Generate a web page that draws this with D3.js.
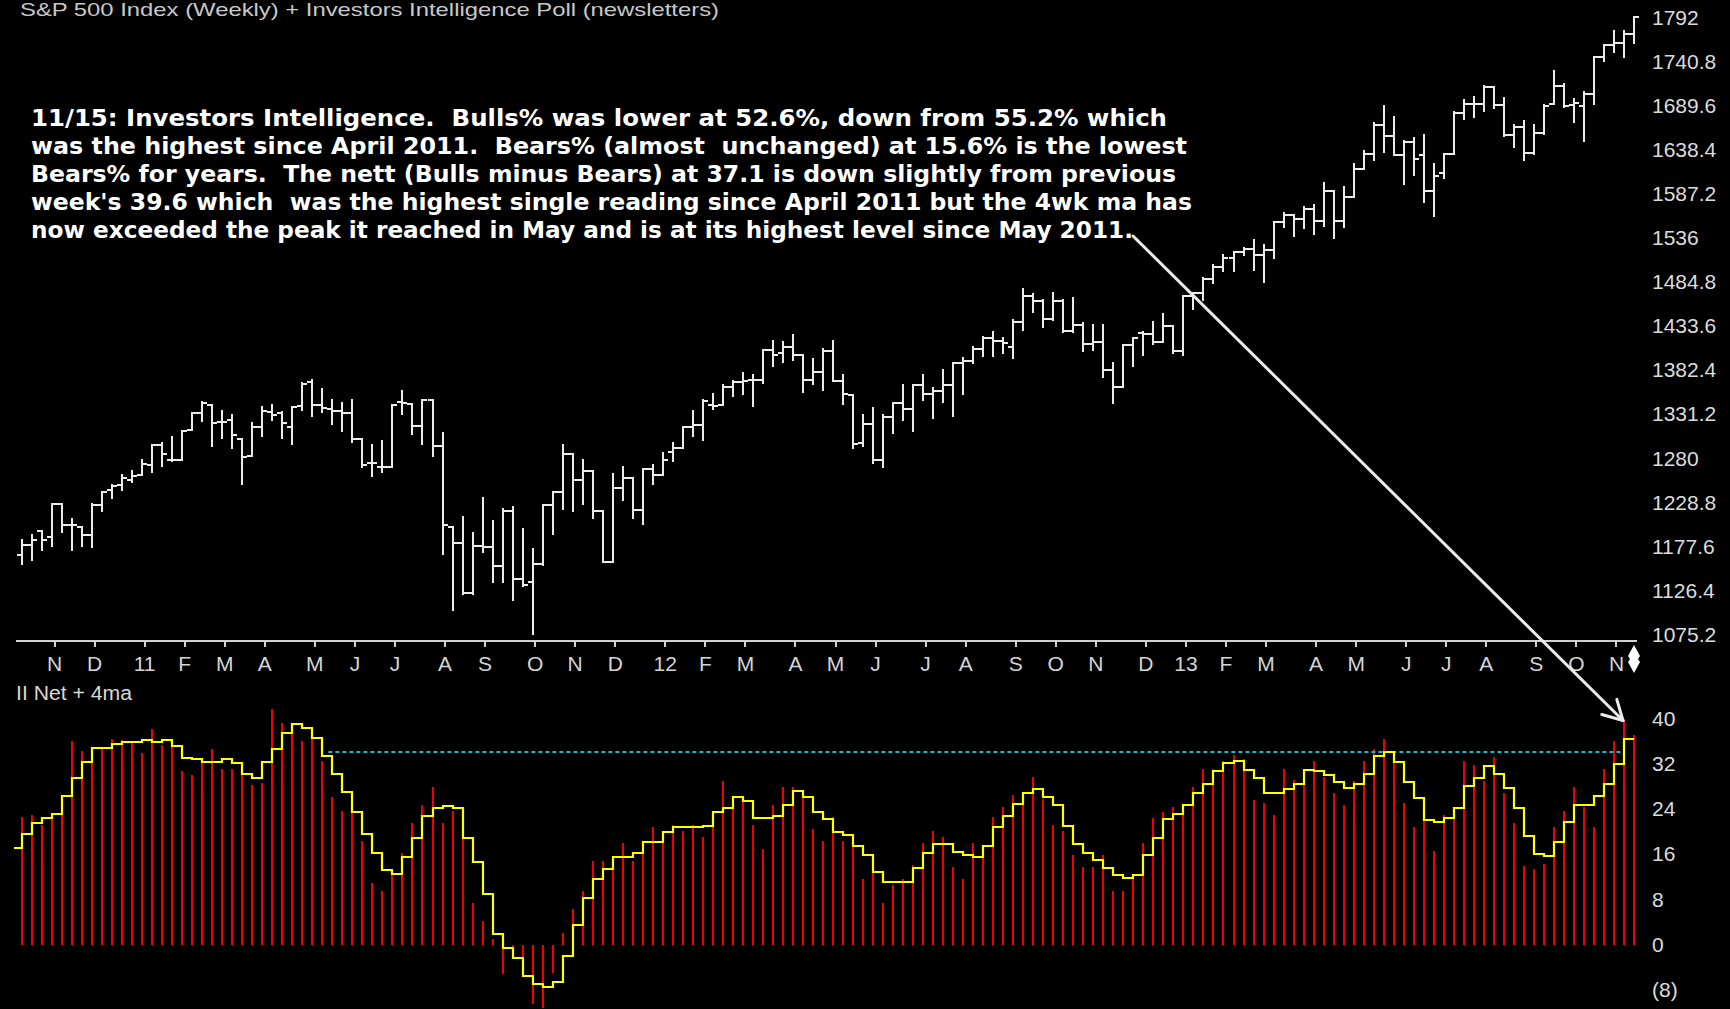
<!DOCTYPE html>
<html><head><meta charset="utf-8">
<script src="https://cdn.jsdelivr.net/npm/d3@7"></script>
<style>html,body{margin:0;padding:0;background:#000;overflow:hidden}</style>
</head><body>
<svg id="c" width="1730" height="1009"></svg>
<script>
// ---------------- DATA ----------------
const startDate = "2010-10-15"; // first weekly bar (week ending Friday)
const title = "S&P 500 Index (Weekly) + Investors Intelligence Poll  (newsletters)";
const panelLabel = "II Net + 4ma";
const noteLines = [
  "11/15: Investors Intelligence.  Bulls% was lower at 52.6%, down from 55.2% which",
  "was the highest since April 2011.  Bears% (almost  unchanged) at 15.6% is the lowest",
  "Bears% for years.  The nett (Bulls minus Bears) at 37.1 is down slightly from previous",
  "week's 39.6 which  was the highest single reading since April 2011 but the 4wk ma has",
  "now exceeded the peak it reached in May and is at its highest level since May 2011."
];
const priceOpen = [1167,1179,1195,1188,1227,1202,1200,1190,1225,1243,
1249,1254,1260,1272,1295,1278,1278,1313,1332,1342,
1322,1324,1302,1282,1316,1334,1332,1316,1340,1368,
1342,1337,1335,1332,1302,1274,1270,1269,1345,1343,
1317,1347,1294,1200,1181,1123,1178,1176,1154,1218,
1139,1136,1157,1225,1240,1285,1255,1265,1218,1159,
1245,1257,1220,1267,1260,1287,1292,1316,1318,1342,
1342,1363,1368,1371,1371,1406,1402,1409,1400,1371,
1380,1404,1369,1353,1298,1320,1278,1328,1344,1337,
1365,1355,1358,1365,1390,1393,1407,1419,1416,1409,
1438,1468,1462,1442,1463,1428,1435,1413,1415,1382,
1362,1411,1425,1424,1415,1433,1404,1468,1472,1488,
1502,1513,1519,1523,1516,1522,1554,1563,1558,1570,
1555,1591,1556,1583,1616,1633,1667,1654,1632,1647,
1632,1591,1611,1633,1681,1692,1692,1711,1690,1656,
1665,1635,1658,1692,1713,1690,1689,1703,1746,1760,
1763,1773];
const priceHigh = [1185,1190,1195,1227,1227,1209,1200,1227,1241,1249,
1260,1265,1278,1295,1297,1305,1312,1332,1345,1342,
1335,1330,1302,1321,1339,1342,1334,1339,1367,1371,
1360,1348,1344,1347,1302,1295,1300,1342,1358,1343,
1348,1347,1309,1200,1212,1193,1233,1207,1221,1223,
1197,1174,1225,1241,1295,1285,1278,1265,1218,1262,
1270,1257,1267,1272,1286,1298,1316,1335,1347,1355,
1365,1369,1379,1376,1406,1416,1415,1423,1400,1395,
1407,1416,1376,1353,1330,1338,1330,1344,1365,1365,
1376,1361,1382,1391,1396,1409,1421,1427,1420,1440,
1477,1471,1464,1472,1464,1466,1437,1435,1435,1391,
1411,1419,1426,1438,1448,1433,1468,1472,1489,1504,
1516,1519,1524,1533,1528,1554,1565,1563,1572,1574,
1600,1591,1595,1622,1637,1670,1689,1677,1649,1652,
1656,1622,1633,1682,1696,1700,1712,1711,1698,1667,
1672,1667,1690,1730,1715,1697,1706,1746,1760,1777,
1777,1793];
const priceLow = [1157,1161,1173,1178,1194,1173,1178,1176,1219,1234,
1243,1252,1260,1264,1271,1276,1278,1313,1323,1294,
1303,1292,1250,1282,1306,1324,1303,1296,1336,1329,
1334,1319,1312,1299,1269,1259,1264,1269,1331,1308,
1296,1282,1169,1103,1122,1122,1171,1136,1136,1115,
1131,1076,1156,1192,1221,1218,1226,1210,1159,1159,
1231,1210,1203,1250,1260,1276,1292,1306,1301,1337,
1342,1352,1355,1340,1367,1387,1392,1394,1357,1366,
1359,1369,1343,1292,1294,1274,1269,1309,1324,1311,
1347,1326,1345,1329,1354,1391,1399,1399,1402,1396,
1429,1450,1432,1441,1427,1427,1404,1406,1374,1344,
1362,1387,1400,1413,1415,1402,1400,1453,1464,1483,
1497,1497,1516,1499,1485,1512,1549,1538,1547,1541,
1550,1536,1548,1583,1616,1627,1636,1632,1599,1609,
1578,1561,1606,1633,1674,1676,1683,1687,1654,1641,
1627,1633,1657,1692,1688,1671,1648,1692,1741,1752,
1746,1762];
const priceClose = [1179,1185,1185,1227,1202,1202,1190,1225,1241,1247,
1257,1259,1273,1295,1285,1278,1312,1332,1344,1321,
1322,1307,1281,1316,1335,1330,1321,1339,1366,1342,
1338,1335,1332,1302,1272,1274,1269,1342,1344,1317,
1347,1294,1202,1181,1123,1178,1176,1154,1219,1139,
1132,1157,1225,1240,1285,1255,1265,1218,1159,1245,
1257,1220,1267,1260,1278,1292,1316,1318,1346,1340,
1363,1368,1370,1371,1406,1400,1409,1400,1371,1380,
1404,1369,1355,1296,1319,1278,1328,1344,1337,1365,
1355,1358,1365,1390,1393,1407,1419,1416,1414,1438,
1468,1462,1442,1463,1428,1435,1413,1415,1382,1362,
1411,1419,1424,1415,1433,1404,1468,1472,1488,1502,
1513,1519,1523,1516,1522,1554,1563,1558,1570,1555,
1591,1556,1583,1616,1633,1667,1654,1632,1647,1628,
1591,1608,1633,1681,1692,1692,1711,1690,1656,1665,
1635,1658,1689,1712,1689,1693,1703,1746,1760,1763,
1773,1793];
const iiNet = [22.6,22.9,21.1,22.3,23.1,36.0,34.2,34.6,34.6,36.4,
36.2,35.8,33.9,38.1,35.3,34.9,30.7,29.9,32.4,34.6,
31.0,31.0,30.2,28.2,28.6,41.6,39.2,37.6,36.0,36.4,
32.4,26.1,23.6,23.4,18.3,10.9,9.5,12.8,16.2,21.5,
24.6,27.9,21.5,23.6,18.7,7.4,4.2,1.0,-5.3,-0.5,
-5.4,-10.5,-11.3,-5.0,2.1,6.2,9.4,14.8,14.8,13.4,
18.0,14.7,16.4,20.8,19.6,21.1,20.0,21.1,19.0,21.1,
28.9,26.0,25.2,21.1,16.8,24.6,27.9,27.9,26.1,20.4,
18.3,22.6,18.3,17.4,11.5,12.8,7.4,10.5,11.5,14.0,
18.0,20.0,19.0,13.7,11.5,18.0,16.4,22.6,24.3,26.4,
24.9,29.6,25.8,21.1,20.1,15.8,13.7,13.7,15.8,9.5,
9.5,11.8,18.0,22.3,23.5,24.3,23.1,27.9,31.1,31.0,
32.4,33.5,32.7,25.5,25.0,22.9,31.1,29.0,30.6,32.4,
29.6,26.8,24.6,28.9,32.4,34.5,36.3,32.8,25.0,20.7,
22.0,16.5,22.9,22.4,32.5,31.7,28.9,33.2,26.8,21.5,
13.9,13.3,14.3,20.7,23.6,27.9,24.3,20.7,31.0,36.0,
39.6,37.1];
const iiMa4 = [17.1,19.6,21.4,22.4,23.1,26.3,29.5,32.3,34.7,34.7,
35.5,35.8,35.8,36.2,35.8,36.2,35.1,33.0,32.7,32.3,
32.3,32.7,32.0,30.2,29.5,32.3,34.5,37.3,39.0,38.3,
36.5,33.3,30.2,27.0,23.4,19.6,16.1,13.1,12.5,15.4,
18.9,22.8,24.2,24.4,24.2,18.9,14.6,9.0,1.8,-0.6,
-2.3,-5.5,-6.9,-7.6,-6.6,-2.0,3.4,8.3,11.5,13.3,
15.4,15.4,16.1,18.1,18.1,19.9,20.7,20.7,20.7,21.0,
23.4,24.2,26.0,25.3,22.4,22.4,22.8,24.6,27.1,26.0,
23.4,22.1,19.9,19.3,17.4,15.8,12.8,11.1,11.1,11.1,
13.6,16.1,17.8,17.8,16.4,15.8,15.4,17.4,20.7,22.8,
24.9,26.7,27.4,26.0,24.6,21.0,17.8,16.1,15.0,13.6,
12.2,11.8,12.2,15.8,18.9,22.1,23.1,24.6,26.7,28.4,
30.6,32.0,32.4,30.9,29.5,26.7,26.7,27.4,28.4,30.9,
30.6,29.9,28.8,27.7,28.4,30.2,33.4,34.0,32.3,28.7,
25.9,22.0,21.6,22.4,24.2,28.1,29.5,31.6,30.2,27.7,
24.1,19.1,16.0,15.6,18.2,21.6,24.6,24.6,26.3,28.4,
31.9,36.3];
const priceTicks = [1075.2,1126.4,1177.6,1228.8,1280,1331.2,1382.4,1433.6,1484.8,1536,1587.2,1638.4,1689.6,1740.8,1792];
const netTicks = [40,32,24,16,8,0,-8];
const monthLabels = ["N","D","11","F","M","A","M","J","J","A","S","O",
  "N","D","12","F","M","A","M","J","J","A","S","O",
  "N","D","13","F","M","A","M","J","J","A","S","O","N"];
const refLevel = 34;        // dashed reference level on the II panel
const refFromWeek = 30.6;   // week index where the reference level starts
const refToWeek = 160;

// ---------------- SCALES ----------------
const svg = d3.select("#c");
const W = 1730, H = 1009;
svg.append("rect").attr("width", W).attr("height", H).attr("fill", "#000");

const t0 = d3.utcParse("%Y-%m-%d")(startDate);
const dates = priceClose.map((_, i) => d3.utcDay.offset(t0, 7 * i));
const n = dates.length;
const x = d3.scaleUtc().domain([dates[0], dates[n - 1]]).range([22, 1634]);
const step = (x(dates[1]) - x(dates[0]));
const yP = d3.scaleLinear().domain([1075.2, 1792]).range([634.2, 17.6]);
const yN = d3.scaleLinear().domain([0, 40]).range([944.5, 718.2]);

const labelFont = "'Liberation Sans', Arial, sans-serif";
const narrowFont = "'Liberation Sans Narrow', 'Liberation Sans', Arial, sans-serif";

// ---------------- TITLE ----------------
svg.append("text").attr("x", 20).attr("y", 16)
  .attr("font-family", narrowFont).attr("font-size", 19).attr("fill", "#c8c8c8")
  .attr("textLength", 699).attr("lengthAdjust", "spacingAndGlyphs").text(title);

// ---------------- PRICE BARS ----------------
const bars = svg.append("g").attr("stroke", "#ececec").attr("stroke-width", 2)
  .attr("shape-rendering", "crispEdges");
const pdata = dates.map((d, i) => ({d, o: priceOpen[i], h: priceHigh[i], l: priceLow[i], c: priceClose[i]}));
const bx = d => Math.round(x(d.d));
bars.selectAll("line.hl").data(pdata).join("line").attr("class", "hl")
  .attr("x1", bx).attr("x2", bx)
  .attr("y1", d => yP(d.h) - 1).attr("y2", d => yP(d.l) + 1);
bars.selectAll("line.op").data(pdata).join("line").attr("class", "op")
  .attr("x1", d => bx(d) - 5).attr("x2", d => bx(d))
  .attr("y1", d => Math.round(yP(d.o))).attr("y2", d => Math.round(yP(d.o)));
bars.selectAll("line.cl").data(pdata).join("line").attr("class", "cl")
  .attr("x1", d => bx(d)).attr("x2", d => bx(d) + 5)
  .attr("y1", d => Math.round(yP(d.c))).attr("y2", d => Math.round(yP(d.c)));

// price axis labels
svg.append("g").selectAll("text").data(priceTicks).join("text")
  .attr("x", 1652).attr("y", v => yP(v) + 7.5)
  .attr("font-family", labelFont).attr("font-size", 21).attr("fill", "#dcdcdc")
  .text(v => String(Math.round(v * 10) / 10));

// ---------------- TIME AXIS ----------------
const axisY = 641;
svg.append("line").attr("x1", 16).attr("x2", 1637).attr("y1", axisY).attr("y2", axisY)
  .attr("stroke", "#d0d0d0").attr("stroke-width", 2);
const monthStarts = [];
for (let i = 1; i < n; i++) {
  if (dates[i].getUTCMonth() !== dates[i - 1].getUTCMonth()) monthStarts.push(dates[i]);
}
const ticks = monthStarts.slice(0, monthLabels.length).map((d, i) => ({d, label: monthLabels[i]}));
const tg = svg.append("g");
tg.selectAll("line").data(ticks).join("line")
  .attr("x1", d => Math.round(x(d.d) + 2.5)).attr("x2", d => Math.round(x(d.d) + 2.5))
  .attr("y1", axisY).attr("y2", axisY + 6).attr("stroke", "#d0d0d0").attr("stroke-width", 2);
tg.selectAll("text").data(ticks).join("text")
  .attr("x", d => x(d.d) + 2.5).attr("y", 671).attr("text-anchor", "middle")
  .attr("font-family", labelFont).attr("font-size", 21).attr("fill", "#d4d4d4")
  .text(d => d.label);
// end-of-data marker
const lx = Math.round(x(dates[n - 1]));
svg.append("path")
  .attr("d", `M${lx},645 L${lx + 6},656 L${lx + 4},659 L${lx + 6},662 L${lx},673 L${lx - 6},662 L${lx - 4},659 L${lx - 6},656 Z`)
  .attr("fill", "#ffffff");

// ---------------- II PANEL ----------------
svg.append("text").attr("x", 16).attr("y", 700)
  .attr("font-family", narrowFont).attr("font-size", 20).attr("fill", "#d8d8d8")
  .attr("textLength", 116).attr("lengthAdjust", "spacingAndGlyphs").text(panelLabel);

svg.append("g").selectAll("text").data(netTicks).join("text")
  .attr("x", 1652).attr("y", v => yN(v) + 7.5)
  .attr("font-family", labelFont).attr("font-size", 21).attr("fill", "#dcdcdc")
  .text(v => v < 0 ? "(" + (-v) + ")" : String(v));

const ndata = dates.map((d, i) => ({d, v: iiNet[i], m: iiMa4[i]}));
svg.append("g").attr("stroke", "#f00000").attr("stroke-width", 2).attr("shape-rendering", "crispEdges")
  .selectAll("line").data(ndata).join("line")
  .attr("x1", bx).attr("x2", bx)
  .attr("y1", Math.round(yN(0))).attr("y2", d => Math.round(yN(d.v)));

// reference level (dashed cyan)
svg.append("line")
  .attr("x1", x(dates[0]) + refFromWeek * step).attr("x2", x(dates[0]) + refToWeek * step)
  .attr("y1", Math.round(yN(refLevel))).attr("y2", Math.round(yN(refLevel)))
  .attr("stroke", "#1ab8c8").attr("stroke-width", 2).attr("stroke-dasharray", "4,3");

// 4-week MA step line
const maPts = [{px: x(dates[0]) - 8, py: yN(iiMa4[0])}]
  .concat(ndata.map(d => ({px: x(d.d), py: yN(d.m)})));
svg.append("path").datum(maPts)
  .attr("d", d3.line().x(p => Math.round(p.px)).y(p => Math.round(p.py)).curve(d3.curveStepBefore))
  .attr("fill", "none").attr("stroke", "#ffff00").attr("stroke-width", 2.2);

// ---------------- ANNOTATION ----------------
const noteWidths = [1136, 1156, 1145, 1161, 1102];
svg.append("g").selectAll("text").data(noteLines).join("text")
  .attr("x", 31).attr("y", (d, i) => 126 + i * 27.9)
  .attr("font-family", "'DejaVu Sans', Verdana, sans-serif").attr("font-weight", "bold")
  .attr("font-size", 23).attr("fill", "#ffffff")
  .attr("textLength", (d, i) => noteWidths[i]).attr("lengthAdjust", "spacingAndGlyphs")
  .attr("xml:space", "preserve").style("white-space", "pre")
  .text(d => d);

// arrow from the note to the latest II reading
const a0 = [1133, 236];
const tip = [x(dates[n - 2]) - 1, yN(iiNet[n - 2])];
const ang = Math.atan2(tip[1] - a0[1], tip[0] - a0[0]);
const L = 22, al = 29 * Math.PI / 180;
const ag = svg.append("g").attr("stroke", "#ebebeb").attr("stroke-width", 3).attr("stroke-linecap", "round");
ag.append("line").attr("x1", a0[0]).attr("y1", a0[1]).attr("x2", tip[0]).attr("y2", tip[1]);
[ -al, al ].forEach(s => {
  ag.append("line").attr("x1", tip[0]).attr("y1", tip[1])
    .attr("x2", tip[0] - L * Math.cos(ang + s)).attr("y2", tip[1] - L * Math.sin(ang + s));
});
</script>
</body></html>
